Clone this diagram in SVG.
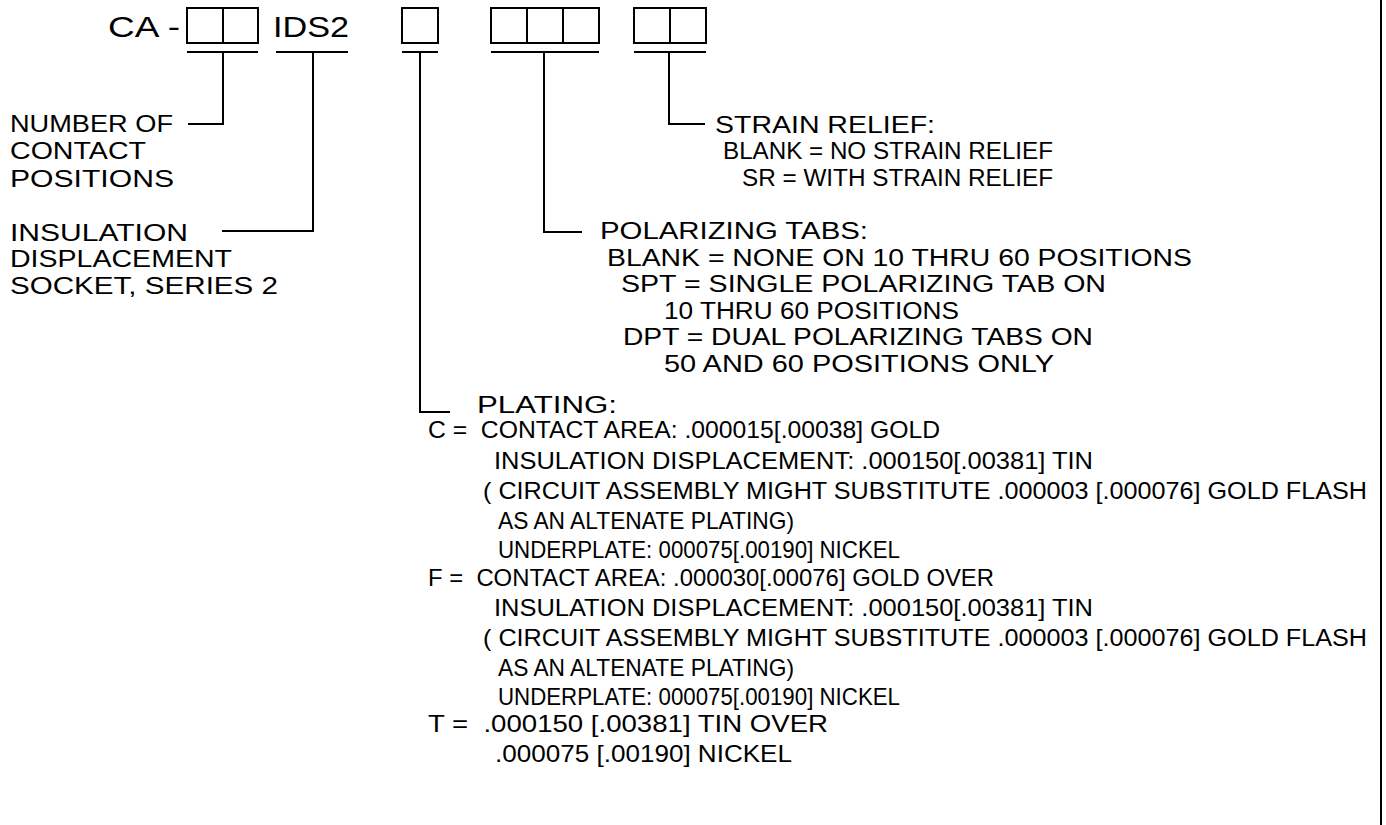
<svg xmlns="http://www.w3.org/2000/svg" width="1386" height="825" viewBox="0 0 1386 825" xml:space="preserve">
<style>
text{font-family:"Liberation Sans",Arial,sans-serif;fill:#000;white-space:pre;}
.ln{stroke:#000;stroke-width:2;fill:none;}
.top{font-size:30px;}
.lbl{font-size:24px;}
.hd{font-size:23.5px;}
.pd{font-size:23.5px;}
.sd{font-size:23px;}
.dt{font-size:24.5px;}
</style>
<rect width="1386" height="825" fill="#fff"/>
<g id="code">
<text class="top" x="108" y="37" textLength="72" lengthAdjust="spacingAndGlyphs">CA -</text>
<text class="top" x="273" y="37" textLength="76" lengthAdjust="spacingAndGlyphs">IDS2</text>
<rect class="ln" x="187" y="8" width="71" height="35"/>
<line class="ln" x1="223" y1="8" x2="223" y2="43"/>
<rect class="ln" x="402" y="8" width="36" height="35"/>
<rect class="ln" x="491" y="8" width="108" height="35"/>
<line class="ln" x1="527" y1="8" x2="527" y2="43"/>
<line class="ln" x1="563" y1="8" x2="563" y2="43"/>
<rect class="ln" x="634" y="8" width="72" height="35"/>
<line class="ln" x1="670" y1="8" x2="670" y2="43"/>
<path class="ln" d="M187 52H258M276 52H348M402 52H438M491 52H599M634 52H706"/>
</g>
<g id="connectors">
<path class="ln" d="M223 52V124H188"/>
<path class="ln" d="M313 52V231H222"/>
<path class="ln" d="M420 52V412H450"/>
<path class="ln" d="M544 52V232H582"/>
<path class="ln" d="M669 52V124H705"/>
<line class="ln" x1="1381" y1="0" x2="1381" y2="825"/>
</g>
<g id="positions">
<text class="lbl" x="10" y="132" textLength="163" lengthAdjust="spacingAndGlyphs">NUMBER OF</text>
<text class="lbl" x="10" y="159" textLength="136" lengthAdjust="spacingAndGlyphs">CONTACT</text>
<text class="lbl" x="10" y="187" textLength="164" lengthAdjust="spacingAndGlyphs">POSITIONS</text>
</g>
<g id="series">
<text class="lbl" x="10" y="241" textLength="178" lengthAdjust="spacingAndGlyphs">INSULATION</text>
<text class="lbl" x="10" y="267" textLength="222" lengthAdjust="spacingAndGlyphs">DISPLACEMENT</text>
<text class="lbl" x="10" y="294" textLength="268" lengthAdjust="spacingAndGlyphs">SOCKET, SERIES 2</text>
</g>
<g id="strain">
<text class="hd" x="715" y="133" textLength="220" lengthAdjust="spacingAndGlyphs">STRAIN RELIEF:</text>
<text class="sd" x="723" y="159" textLength="330" lengthAdjust="spacingAndGlyphs">BLANK = NO STRAIN RELIEF</text>
<text class="sd" x="742" y="186" textLength="311" lengthAdjust="spacingAndGlyphs">SR = WITH STRAIN RELIEF</text>
</g>
<g id="polarizing">
<text class="hd" x="600" y="239" textLength="268" lengthAdjust="spacingAndGlyphs">POLARIZING TABS:</text>
<text class="pd" x="607" y="266" textLength="585" lengthAdjust="spacingAndGlyphs">BLANK = NONE ON 10 THRU 60 POSITIONS</text>
<text class="pd" x="621" y="292" textLength="485" lengthAdjust="spacingAndGlyphs">SPT = SINGLE POLARIZING TAB ON</text>
<text class="pd" x="664" y="319" textLength="295" lengthAdjust="spacingAndGlyphs">10 THRU 60 POSITIONS</text>
<text class="pd" x="623" y="345" textLength="470" lengthAdjust="spacingAndGlyphs">DPT = DUAL POLARIZING TABS ON</text>
<text class="pd" x="664" y="372" textLength="390" lengthAdjust="spacingAndGlyphs">50 AND 60 POSITIONS ONLY</text>
</g>
<g id="plating">
<text class="hd" x="477" y="413" textLength="140" lengthAdjust="spacingAndGlyphs">PLATING:</text>
<text class="dt" x="428" y="438" textLength="512" lengthAdjust="spacingAndGlyphs">C =  CONTACT AREA: .000015[.00038] GOLD</text>
<text class="dt" x="494" y="469" textLength="599" lengthAdjust="spacingAndGlyphs">INSULATION DISPLACEMENT: .000150[.00381] TIN</text>
<text class="dt" x="483" y="499" textLength="884" lengthAdjust="spacingAndGlyphs">( CIRCUIT ASSEMBLY MIGHT SUBSTITUTE .000003 [.000076] GOLD FLASH</text>
<text class="dt" x="498" y="529" textLength="296" lengthAdjust="spacingAndGlyphs">AS AN ALTENATE PLATING)</text>
<text class="dt" x="498" y="558" textLength="402" lengthAdjust="spacingAndGlyphs">UNDERPLATE: 000075[.00190] NICKEL</text>
<text class="dt" x="428" y="586" textLength="566" lengthAdjust="spacingAndGlyphs">F =  CONTACT AREA: .000030[.00076] GOLD OVER</text>
<text class="dt" x="494" y="616" textLength="599" lengthAdjust="spacingAndGlyphs">INSULATION DISPLACEMENT: .000150[.00381] TIN</text>
<text class="dt" x="483" y="646" textLength="884" lengthAdjust="spacingAndGlyphs">( CIRCUIT ASSEMBLY MIGHT SUBSTITUTE .000003 [.000076] GOLD FLASH</text>
<text class="dt" x="498" y="676" textLength="296" lengthAdjust="spacingAndGlyphs">AS AN ALTENATE PLATING)</text>
<text class="dt" x="498" y="705" textLength="402" lengthAdjust="spacingAndGlyphs">UNDERPLATE: 000075[.00190] NICKEL</text>
<text class="dt" x="428" y="732" textLength="400" lengthAdjust="spacingAndGlyphs">T =  .000150 [.00381] TIN OVER</text>
<text class="dt" x="495" y="762" textLength="297" lengthAdjust="spacingAndGlyphs">.000075 [.00190] NICKEL</text>
</g>
</svg>
